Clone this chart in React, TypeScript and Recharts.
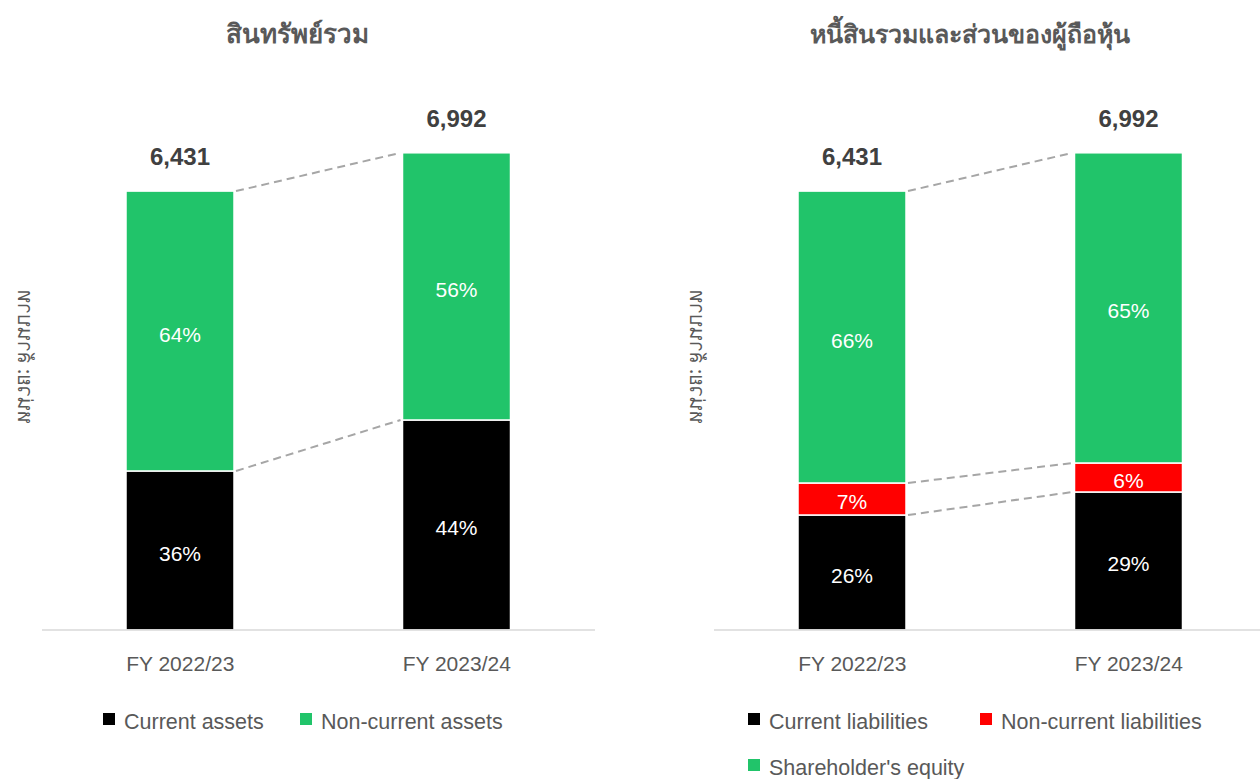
import React from 'react';
import { BarChart, Bar, XAxis, YAxis, Legend, LabelList } from 'recharts';

const categories = ['FY 2022/23', 'FY 2023/24'];

// สินทรัพย์รวม (ล้านบาท)
const currentAssets = [2330, 3077];
const nonCurrentAssets = [4101, 3915];
const currentAssetsPct = ['36%', '44%'];
const nonCurrentAssetsPct = ['64%', '56%'];

// หนี้สินรวมและส่วนของผู้ถือหุ้น (ล้านบาท)
const currentLiabilities = [1685, 2022];
const nonCurrentLiabilities = [469, 425];
const shareholdersEquity = [4277, 4545];
const currentLiabilitiesPct = ['26%', '29%'];
const nonCurrentLiabilitiesPct = ['7%', '6%'];
const shareholdersEquityPct = ['66%', '65%'];

const BLACK = '#000000';
const GREEN = '#21c46a';
const RED = '#ff0000';
const TEXT = '#595959';

interface Series {
  key: string;
  name: string;
  color: string;
  values: number[];
  pct: string[];
}

const assetSeries: Series[] = [
  { key: 'current', name: 'Current assets', color: BLACK, values: currentAssets, pct: currentAssetsPct },
  { key: 'nonCurrent', name: 'Non-current assets', color: GREEN, values: nonCurrentAssets, pct: nonCurrentAssetsPct },
];

const liabilitySeries: Series[] = [
  { key: 'current', name: 'Current liabilities', color: BLACK, values: currentLiabilities, pct: currentLiabilitiesPct },
  { key: 'nonCurrent', name: 'Non-current liabilities', color: RED, values: nonCurrentLiabilities, pct: nonCurrentLiabilitiesPct },
  { key: 'equity', name: "Shareholder's equity", color: GREEN, values: shareholdersEquity, pct: shareholdersEquityPct },
];

type Rect = { x: number; y: number; width: number; height: number };

interface PanelProps {
  title: string;
  titleSize: number;
  series: Series[];
  left: number;
  plotLeft: number;
  titleX: number;
  yLabelX: number;
  legendLeft: number;
  legendWidth: number;
  legendItemWidth: number;
}

const CHART_W = 640;
const CHART_H = 779;
const PLOT_W = 553;

const StackPanel = ({ title, titleSize, series, left, plotLeft, titleX, yLabelX, legendLeft, legendWidth, legendItemWidth }: PanelProps) => {
  // bar geometry from the library, filled in by the bar shapes, used for the dashed connectors
  const geom: Record<string, Rect> = {};

  const data = categories.map((name, i) => {
    const row: any = { name };
    series.forEach((s) => (row[s.key] = s.values[i]));
    return row;
  });

  const last = series[series.length - 1];

  const getBox = (p: any): Rect => {
    const vb = p.viewBox || {};
    return {
      x: p.x ?? vb.x,
      y: p.y ?? vb.y,
      width: p.width ?? vb.width,
      height: p.height ?? vb.height,
    };
  };

  return (
    <div style={{ position: 'absolute', left, top: 0, width: CHART_W, height: CHART_H }}>
      <BarChart
        width={CHART_W}
        height={CHART_H}
        data={data}
        margin={{ top: 84, right: CHART_W - plotLeft - PLOT_W, left: plotLeft, bottom: 0 }}
      >
        <XAxis
          dataKey="name"
          axisLine={{ stroke: '#d9d9d9', strokeWidth: 1.5 }}
          tickLine={false}
          tick={{ fill: TEXT, fontSize: 21 }}
          tickMargin={20}
          height={50}
        />
        <YAxis hide domain={[0, 8000]} />
        <Legend
          verticalAlign="bottom"
          wrapperStyle={{ left: 0, bottom: 0, width: CHART_W }}
          content={() => (
            <div
              style={{
                height: 99,
                boxSizing: 'border-box',
                paddingTop: 19,
                paddingLeft: legendLeft,
                width: legendLeft + legendWidth,
                display: 'flex',
                flexWrap: 'wrap',
              }}
            >
              {series.map((s) => (
                <div
                  key={s.key}
                  style={{ display: 'flex', alignItems: 'center', height: 46, width: legendItemWidth, flexShrink: 0 }}
                >
                  <span
                    style={{ width: 12, height: 12, flexShrink: 0, background: s.color, marginRight: 9, marginTop: -6 }}
                  />
                  <span style={{ fontSize: 21.5, color: TEXT, whiteSpace: 'nowrap' }}>{s.name}</span>
                </div>
              ))}
            </div>
          )}
        />
        {series.map((s) => (
          <Bar
            key={s.key}
            dataKey={s.key}
            name={s.name}
            stackId="a"
            fill={s.color}
            barSize={108}
            isAnimationActive={false}
            shape={(p: any) => {
              const idx = p.index ?? categories.indexOf(p.payload?.name);
              geom[`${s.key}-${idx}`] = { x: p.x, y: p.y, width: p.width, height: p.height };
              return <rect x={p.x} y={p.y} width={p.width} height={p.height} fill={s.color} stroke="#ffffff" strokeWidth={1.5} />;
            }}
          >
            <LabelList
              dataKey={s.key}
              content={(p: any) => {
                const b = getBox(p);
                const idx = p.index ?? 0;
                const isTop = s.key === last.key;
                const total = series.reduce((sum, ss) => sum + ss.values[idx], 0);
                return (
                  <g>
                    <text
                      x={b.x + b.width / 2}
                      y={b.y + b.height / 2 + 3}
                      dominantBaseline="central"
                      textAnchor="middle"
                      fill="#ffffff"
                      fontSize={21}
                    >
                      {s.pct[idx]}
                    </text>
                    {isTop && (
                      <text x={b.x + b.width / 2} y={b.y - 26} textAnchor="middle" fill="#404040" fontSize={24} fontWeight="bold">
                        {total.toLocaleString('en-US')}
                      </text>
                    )}
                    {isTop &&
                      idx === categories.length - 1 &&
                      series.map((ss) => {
                        const g0 = geom[`${ss.key}-0`];
                        const g1 = geom[`${ss.key}-1`];
                        if (!g0 || !g1) return null;
                        return (
                          <line
                            key={ss.key}
                            x1={g0.x + g0.width + 2}
                            y1={g0.y}
                            x2={g1.x - 2}
                            y2={g1.y}
                            stroke="#a6a6a6"
                            strokeWidth={2}
                            strokeDasharray="8 5"
                          />
                        );
                      })}
                  </g>
                );
              }}
            />
          </Bar>
        ))}
      </BarChart>

      <div
        style={{
          position: 'absolute',
          left: titleX - 250,
          top: 17,
          width: 500,
          textAlign: 'center',
          fontSize: titleSize,
          lineHeight: '32px',
          fontWeight: 'bold',
          color: TEXT,
          fontFamily: "'Noto Sans', 'DejaVu Sans', sans-serif",
        }}
      >
        {title}
      </div>

      <div
        style={{
          position: 'absolute',
          left: yLabelX - 90,
          top: 357 - 12,
          width: 180,
          height: 24,
          lineHeight: '24px',
          textAlign: 'center',
          fontSize: 20,
          color: TEXT,
          transform: 'rotate(-90deg) scaleY(-1)',
          fontFamily: "'Noto Sans', 'DejaVu Sans', sans-serif",
        }}
      >
        หน่วย: ล้านบาท
      </div>
    </div>
  );
};

const App = () => {
  return (
    <div
      style={{
        position: 'fixed',
        left: 0,
        top: 0,
        width: 1260,
        height: 779,
        overflow: 'hidden',
        background: '#ffffff',
        fontFamily: "'Liberation Sans', Arial, sans-serif",
      }}
    >
      <StackPanel
        title="สินทรัพย์รวม"
        titleSize={26}
        series={assetSeries}
        left={0}
        plotLeft={42}
        titleX={297}
        yLabelX={25}
        legendLeft={103}
        legendWidth={420}
        legendItemWidth={197}
      />
      <StackPanel
        title="หนี้สินรวมและส่วนของผู้ถือหุ้น"
        titleSize={25}
        series={liabilitySeries}
        left={640}
        plotLeft={74}
        titleX={330}
        yLabelX={57}
        legendLeft={108}
        legendWidth={470}
        legendItemWidth={232}
      />
    </div>
  );
};

export default App;
